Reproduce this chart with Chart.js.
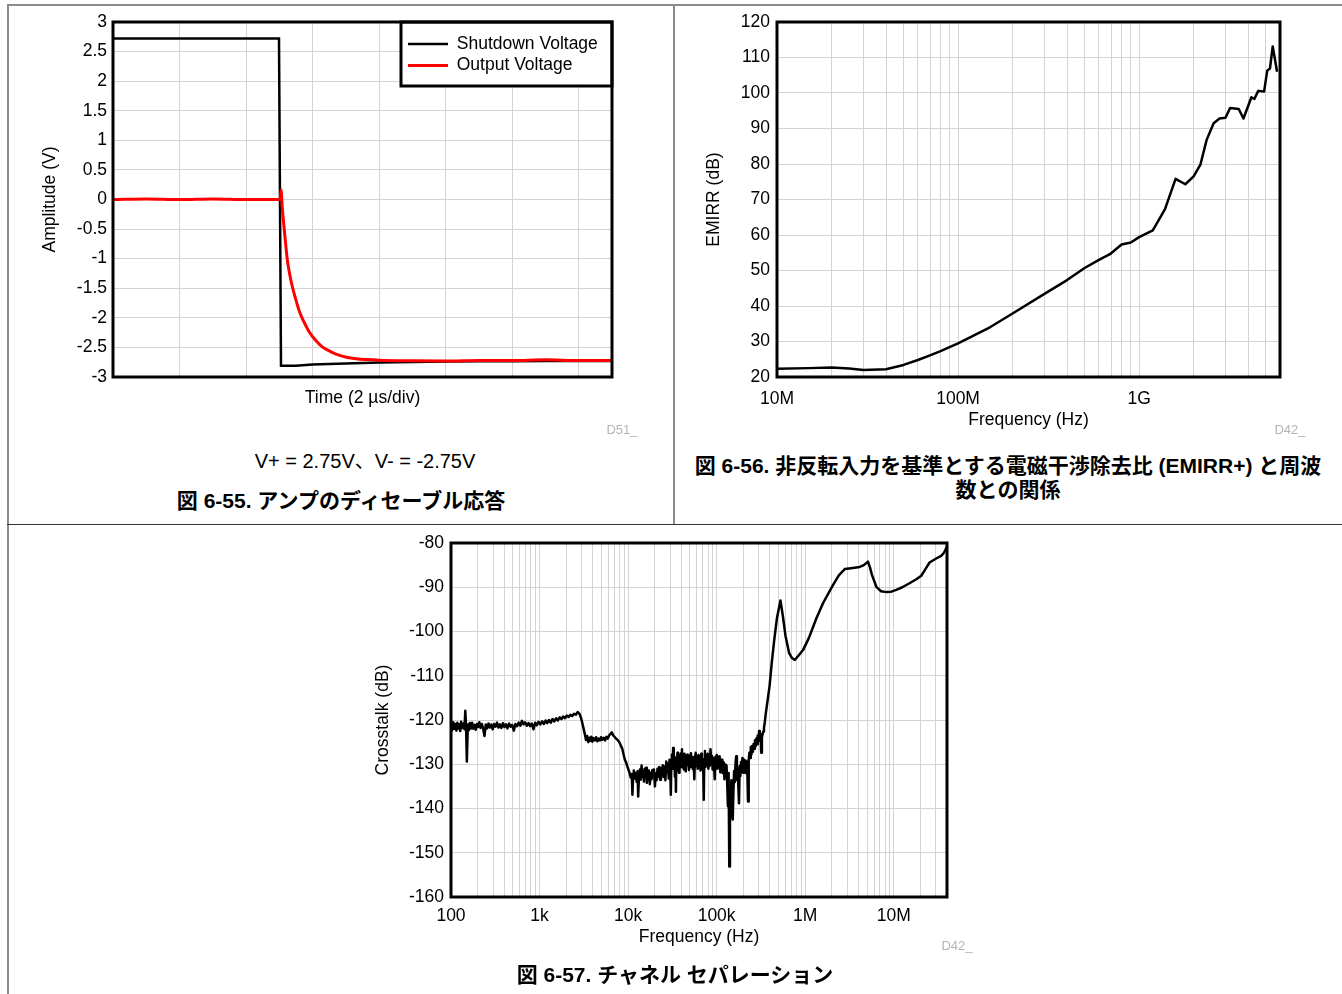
<!DOCTYPE html>
<html>
<head>
<meta charset="utf-8">
<script src="https://cdn.jsdelivr.net/npm/chart.js@4.4.1/dist/chart.umd.min.js"></script>
<style>
  html, body { margin: 0; padding: 0; background: #fff; }
  body { width: 1342px; height: 994px; position: relative; overflow: hidden;
         font-family: "Liberation Sans", Arial, "Noto Sans CJK JP", sans-serif; }
  canvas { position: absolute; }
  .rule { position: absolute; background: #8c8c8c; }
  .txt { position: absolute; text-align: center; white-space: nowrap; color: #000; }
  .cap { font-weight: bold; font-size: 21px; line-height: 24px; }
  .code { font-size: 13px; line-height: 16px; color: #b4b4b4; }
</style>
</head>
<body>
<div class="rule" style="left:7px;top:4px;width:1335px;height:2px;"></div>
<div class="rule" style="left:7px;top:4px;width:2px;height:990px;"></div>
<div class="rule" style="left:673px;top:4px;width:2px;height:521px;"></div>
<div class="rule" style="left:7px;top:524px;width:1335px;height:1px;background:#333;"></div>

<canvas id="c1" width="674" height="430" style="left:0;top:0;"></canvas>
<canvas id="c2" width="668" height="440" style="left:674px;top:0;"></canvas>
<canvas id="c3" width="660" height="440" style="left:340px;top:525px;"></canvas>

<div class="txt code" style="left:592px;top:422px;width:60px;">D51_</div>
<div class="txt" style="left:165px;top:449px;width:400px;font-size:20px;line-height:24px;">V+ = 2.75V、V- = -2.75V</div>
<div class="txt cap" style="left:41px;top:489px;width:600px;">図 6-55. アンプのディセーブル応答</div>

<div class="txt code" style="left:1260px;top:422px;width:60px;">D42_</div>
<div class="txt cap" style="left:674px;top:454px;width:668px;">図 6-56. 非反転入力を基準とする電磁干渉除去比 (EMIRR+) と周波<br>数との関係</div>

<div class="txt code" style="left:927px;top:938px;width:60px;">D42_</div>
<div class="txt cap" style="left:375px;top:963px;width:600px;">図 6-57. チャネル セパレーション</div>

<script>
// ---- chart 1: disable response ----
var seriesNames = ["Shutdown Voltage", "Output Voltage"];
var shutT = [0, 4.99, 5.05, 5.5, 6, 7, 8, 9, 10, 11, 12, 13, 14, 15];
var shutV = [2.72, 2.72, -2.81, -2.81, -2.79, -2.77, -2.755, -2.745, -2.74, -2.735, -2.735, -2.73, -2.73, -2.73];
var outT = [0, 1, 2, 3, 4, 5.03, 5.05, 5.09, 5.14, 5.19, 5.24, 5.31, 5.39, 5.49, 5.59, 5.74, 5.89, 6.09, 6.29, 6.54,
  6.79, 7.05, 7.3, 7.65, 8, 9, 10, 11, 12, 13, 14, 15];
var outV = [0, 0.01, 0, 0.01, 0, 0, 0.16, -0.15, -0.46, -0.75, -1.02, -1.26, -1.47, -1.68, -1.87, -2.07, -2.23, -2.38,
  -2.49, -2.57, -2.63, -2.67, -2.69, -2.705, -2.715, -2.725, -2.73, -2.72, -2.72, -2.71, -2.72, -2.72];

// ---- chart 2: EMIRR+ vs frequency ----
var emiFreq = [1e7, 1.5e7, 2e7, 2.5e7, 3e7, 4e7, 5e7, 6e7, 7e7, 8e7, 1e8, 1.5e8, 2e8, 3e8, 4e8, 5e8, 6e8, 6.9e8,
  8e8, 9e8, 1e9, 1.19e9, 1.39e9, 1.59e9, 1.8e9, 2e9, 2.18e9, 2.36e9, 2.58e9, 2.78e9, 3e9, 3.18e9, 3.55e9,
  3.77e9, 4.17e9, 4.33e9, 4.55e9, 4.9e9, 5.1e9, 5.28e9, 5.47e9, 5.78e9];
var emiVal = [22.3, 22.5, 22.7, 22.4, 22.0, 22.2, 23.4, 24.8, 26.1, 27.3, 29.5, 34.0, 37.9, 43.4, 47.3, 50.7, 53.0, 54.6,
  57.3, 57.9, 59.4, 61.3, 67.3, 75.8, 74.3, 76.5, 79.8, 86.8, 91.5, 92.8, 93.0, 95.8, 95.5,
  92.8, 98.8, 98.3, 100.6, 100.4, 106.3, 106.9, 113.1, 106.0];
var emiTickLabels = { 10000000: "10M", 100000000: "100M", 1000000000: "1G" };

// ---- chart 3: channel separation ----
var ctFreq = [
  100, 103, 106, 109, 112, 115, 118, 121, 124, 127, 130, 134, 138, 142, 145, 148, 151, 155, 159, 163,
  168, 173, 178, 184, 190, 196, 202, 209, 216, 223, 231, 239, 247, 256, 265, 275, 285, 296, 307, 319,
  331, 344, 357, 371, 386, 401, 417, 434, 452, 471, 491, 512, 534, 557, 581, 606, 632, 659, 688, 718,
  750, 783, 818, 855, 893, 933, 975, 1020, 1070, 1120, 1170, 1220, 1280, 1340, 1400, 1470, 1540, 1610, 1690, 1770,
  1850, 1940, 2030, 2130, 2230, 2340, 2450, 2570, 2700, 2830, 2950,
  3050, 3150, 3250, 3350, 3450, 3550, 3650, 3750, 3850, 3950, 4050, 4200, 4350, 4500, 4650, 4800, 4950, 5100,
  5300, 5500, 5700, 5900, 6100, 6300, 6550, 6800, 7100, 7400, 7700, 8000, 8300, 8600, 8900, 9200, 9500, 9800, 10100,
  10400, 10700, 11000, 11200, 11400, 11600, 11900, 12200, 12500, 12800, 13000, 13300, 13600, 13900, 14200, 14500,
  14800, 15100, 15400, 15700, 16000, 16300, 16600, 16900, 17200, 17600, 18000, 18400, 18800, 19200, 19600, 20100,
  20500, 21000, 21500, 22000, 22500, 23000, 23500, 24000, 24600, 25200, 25800, 26400, 27000, 27600, 28200, 28800,
  29400, 30000, 30400, 30800, 31300, 31800, 32300, 32800, 33300, 33800, 34300, 34700, 35100, 35600, 36100, 36600,
  37100, 37600, 38100, 38700, 39300, 40000, 40600, 41300, 42000, 42700, 43400, 44100, 44800, 45500, 46300, 47100,
  47900, 48700, 49500, 50400, 51300, 52200, 53100, 54000, 55000, 56000, 57000, 58000, 59000, 60100, 61200, 62300,
  63400, 64600, 65800, 67000, 68200, 69500, 70800, 71600, 72500, 73800, 75100, 76500, 77900, 79300, 80800, 82300,
  83800, 85300, 86900, 88500, 90100, 91800, 93500, 95200, 96900, 98700, 100500, 102300, 104200, 106100, 108000,
  110000, 112000, 114000, 116100, 118200, 120400, 122600, 124800, 127100, 129400, 131800, 134200, 136600, 139000,
  141500, 144100, 146700, 149400, 152100, 154900, 157700, 160600, 163500, 166500, 169500, 172600, 175700, 178900,
  182200, 185500, 188900, 192300, 195800, 199400, 203000, 206700, 210500, 214300, 218200, 222200, 226300, 230400,
  234600, 238900, 243200, 247600, 252100, 256700, 261400, 266200, 271000, 276000, 281000, 286100, 291300, 296600,
  302000, 307500, 313100, 318800, 324600, 330500, 336500, 342600, 350000, 360000, 380000, 396000, 420000, 450000,
  480000, 526000, 560000, 600000, 660000, 710000, 764000, 830000, 946000, 1.1e6, 1.34e6, 1.6e6, 2.06e6, 2.4e6,
  2.8e6, 3.3e6, 4.13e6, 4.6e6, 5.12e6, 5.4e6, 5.68e6, 6.37e6, 7.2e6, 8.26e6, 9.4e6, 10.7e6, 12.5e6, 15.1e6, 18e6,
  20.5e6, 23e6, 25.4e6, 28e6, 30.2e6, 34.4e6, 37e6, 40e6];
var ctVal = [
  -121.2, -122.3, -120.5, -122.0, -120.9, -122.4, -120.6, -121.9, -121.0, -122.5, -120.4, -121.8, -120.8, -122.1,
  -117.9, -121.5, -129.4, -121.0, -122.3, -120.7, -121.9, -120.6, -122.0, -121.1, -122.2, -120.9, -121.6, -120.5,
  -121.8, -120.9, -122.0, -123.6, -121.0, -121.9, -120.8, -121.7, -121.0, -122.1, -120.9, -121.5, -120.6, -121.7,
  -121.0, -121.8, -120.7, -121.6, -121.0, -121.9, -120.8, -121.5, -121.1, -122.4, -120.9, -121.4, -120.6, -121.3,
  -120.2, -121.0, -120.5, -121.3, -120.7, -121.4, -120.8, -122.1, -120.6, -121.2, -120.4, -121.0, -120.3, -120.9,
  -120.1, -120.7, -120.0, -120.6, -119.8, -120.3, -119.6, -120.1, -119.4, -119.8, -119.2, -119.6, -119.0, -119.3,
  -118.8, -119.1, -118.6, -118.8, -118.2, -118.6, -119.6,
  -120.8, -122.0, -123.2, -124.5, -123.6, -125.0, -124.0, -124.7, -123.8, -124.9, -124.1, -124.6, -123.9, -124.8,
  -124.2, -124.6, -123.9, -124.5, -124.0, -124.6, -123.8, -124.2, -123.5, -123.2, -122.8, -123.5, -123.9, -124.3,
  -124.6, -125.1, -125.8, -126.5, -127.8, -129.0, -129.6, -130.5, -131.2,
  -132.0, -133.0, -132.2, -136.9, -132.6, -131.4, -133.2, -132.0, -134.0, -131.6, -137.3, -132.4, -131.2, -133.5,
  -130.3, -132.8, -131.5, -133.9, -131.0, -132.7, -130.8, -134.2, -131.9, -133.0, -131.4, -134.5, -132.0, -133.4,
  -131.3, -132.9, -131.2, -135.0, -132.1, -133.6, -131.0, -132.8, -130.6, -133.5, -130.9, -132.4, -130.2, -132.9,
  -130.5, -133.6, -129.4, -131.8, -129.9, -133.2, -129.0, -131.5, -136.9, -129.3, -127.8, -131.0, -126.3, -130.2,
  -128.4, -132.8, -129.0, -136.2, -128.6, -131.4, -127.4, -130.3, -128.0, -131.9, -128.7, -130.6, -127.5, -129.9,
  -126.6, -130.7, -128.3, -131.2, -127.6, -129.5, -131.6, -128.0, -130.1, -127.8, -129.2, -131.3, -128.1, -130.6,
  -127.5, -129.8, -128.4, -131.1, -129.0, -133.4, -128.1, -127.4, -130.4, -128.6, -131.0, -127.9, -130.2, -128.3,
  -131.4, -127.6, -130.0, -128.8, -132.5, -138.0, -129.1, -127.0, -130.6, -128.0, -129.7, -127.6, -131.0, -128.9,
  -130.3, -126.6, -129.5, -128.1, -131.2, -128.6, -130.0, -133.4, -128.3, -129.6, -127.9, -131.0, -128.5, -130.7,
  -128.2, -131.8, -128.9, -130.4, -129.0, -132.0, -129.6, -133.4, -130.1, -132.6, -130.3, -134.5, -139.5, -132.0,
  -153.1, -135.0, -140.4, -133.6, -141.0, -142.5, -136.0, -131.5, -134.0, -129.8, -128.2, -133.5, -130.9, -134.6,
  -138.8, -130.4, -132.7, -129.5, -131.5, -128.6, -131.9, -128.9, -130.6, -129.2, -132.0, -129.4, -131.5, -138.4,
  -129.0, -127.4, -128.6, -126.1, -127.8, -125.9, -127.2, -125.4, -126.5, -124.6, -125.9, -124.2, -125.5, -123.5,
  -124.8, -122.5, -124.6, -123.2, -127.4, -124.0, -123.2, -122.6, -121.8, -120.5, -118.4, -115.0, -112.4, -107.0,
  -101.5, -97.0, -93.0, -96.5, -101.0, -104.9, -106.0, -106.4, -105.6, -104.2, -101.5, -97.0, -93.5, -89.5, -87.3,
  -85.9, -85.7, -85.4, -85.0, -84.2, -85.5, -87.2, -89.9, -90.9, -91.1, -91.0, -90.6, -90.0, -89.1, -88.2,
  -87.4, -85.8, -84.4, -83.9, -83.5, -82.9, -82.2, -80.8];
var ctTickLabels = { 100: "100", 1000: "1k", 10000: "10k", 100000: "100k", 1000000: "1M", 10000000: "10M" };

var gridColor = "#d3d3d3";
Chart.defaults.font.family = '"Liberation Sans", Arial, sans-serif';
Chart.defaults.font.size = 17.5;
Chart.defaults.color = "#000";

function pts(xs, ys) {
  return xs.map(function (x, i) { return { x: x, y: ys[i] }; });
}

// gridline positions for a log axis: 1..9 x each decade, plus the axis end
function logGrid(lo, hi) {
  var out = [];
  for (var e = Math.round(Math.log10(lo)); Math.pow(10, e) < hi; e++) {
    for (var m = 1; m <= 9; m++) {
      var v = m * Math.pow(10, e);
      if (v >= lo && v < hi) out.push(v);
    }
  }
  out.push(hi);
  return out;
}

// thick black frame round the plot area
var framePlugin = {
  id: "frame",
  afterDraw: function (chart) {
    var a = chart.chartArea, ctx = chart.ctx;
    ctx.save();
    ctx.strokeStyle = "#000";
    ctx.lineWidth = 3;
    ctx.strokeRect(a.left, a.top, a.right - a.left, a.bottom - a.top);
    ctx.restore();
  }
};

// legend box sitting in the top right corner of the plot
var legendBoxPlugin = {
  id: "legendBox",
  afterLayout: function (chart) {
    var a = chart.chartArea, lg = chart.legend;
    lg.left = a.right - 208;
    lg.top = a.top + 9.25;
    lg.right = a.right;
    lg.bottom = a.top + 64;
    lg.width = lg.right - lg.left;
    lg.height = lg.bottom - lg.top;
  },
  afterDatasetsDraw: function (chart) {
    var a = chart.chartArea, ctx = chart.ctx;
    var bx = a.right - 211, by = a.top, bw = 211, bh = 64;
    ctx.save();
    ctx.fillStyle = "#fff";
    ctx.fillRect(bx, by, bw, bh);
    ctx.restore();
    chart.legend.draw();
    ctx.save();
    ctx.strokeStyle = "#000";
    ctx.lineWidth = 3;
    ctx.strokeRect(bx, by, bw, bh);
    ctx.restore();
  }
};

function yAxis(min, max, step, title, width, titlePad, tickPad) {
  return {
    min: min, max: max,
    ticks: {
      stepSize: step, padding: tickPad,
      callback: function (v) { return String(Math.round(v * 100) / 100); }
    },
    grid: { color: gridColor, drawTicks: false },
    border: { display: false },
    title: { display: true, text: title, padding: { top: titlePad, bottom: 0 } },
    afterFit: function (s) { s.width = width; }
  };
}

function logXAxis(lo, hi, labels, height, tickPad) {
  var grid = logGrid(lo, hi);
  return {
    type: "logarithmic", min: lo, max: hi,
    afterBuildTicks: function (s) { s.ticks = grid.map(function (v) { return { value: v }; }); },
    ticks: {
      autoSkip: false, maxRotation: 0, padding: tickPad,
      callback: function (v) { return labels[v] || ""; }
    },
    grid: { color: gridColor, drawTicks: false },
    border: { display: false },
    title: { display: true, text: "Frequency (Hz)", padding: 0 },
    afterFit: function (s) { s.height = height; }
  };
}

new Chart(document.getElementById("c1"), {
  type: "line",
  data: {
    datasets: [
      { label: seriesNames[0], data: pts(shutT, shutV), borderColor: "#000", backgroundColor: "#000",
        borderWidth: 2.5, pointRadius: 0, order: 1 },
      { label: seriesNames[1], data: pts(outT, outV), borderColor: "#f00", backgroundColor: "#f00",
        borderWidth: 3, pointRadius: 0, order: 0, cubicInterpolationMode: "monotone" }
    ]
  },
  options: {
    responsive: false, animation: false,
    layout: { padding: { top: 22, right: 62, bottom: 21, left: 0 } },
    plugins: {
      legend: {
        position: "chartArea", align: "start",
        labels: {
          usePointStyle: true, pointStyle: "line", pointStyleWidth: 40, padding: 4,
          sort: function (a, b) { return a.datasetIndex - b.datasetIndex; }
        }
      },
      tooltip: { enabled: false }
    },
    scales: {
      x: {
        type: "linear", min: 0, max: 15,
        ticks: { display: false, stepSize: 2 },
        grid: { color: gridColor, drawTicks: false },
        border: { display: false },
        title: { display: true, text: "Time (2 µs/div)", padding: 0 },
        afterFit: function (s) { s.height = 32; }
      },
      y: yAxis(-3, 3, 0.5, "Amplitude (V)", 113, 39.5, 6)
    }
  },
  plugins: [framePlugin, legendBoxPlugin]
});

new Chart(document.getElementById("c2"), {
  type: "line",
  data: {
    datasets: [{ label: "EMIRR+", data: pts(emiFreq, emiVal), borderColor: "#000",
      borderWidth: 2.5, pointRadius: 0, borderJoinStyle: "round" }]
  },
  options: {
    responsive: false, animation: false,
    layout: { padding: { top: 22, right: 62, bottom: 9.5, left: 0 } },
    plugins: { legend: { display: false }, tooltip: { enabled: false } },
    scales: {
      x: logXAxis(1e7, 6e9, emiTickLabels, 53.5, 11.5),
      y: yAxis(20, 120, 10, "EMIRR (dB)", 103, 29.5, 7)
    }
  },
  plugins: [framePlugin]
});

new Chart(document.getElementById("c3"), {
  type: "line",
  data: {
    datasets: [{ label: "Crosstalk", data: pts(ctFreq, ctVal), borderColor: "#000",
      borderWidth: 2.5, pointRadius: 0, borderJoinStyle: "round" }]
  },
  options: {
    responsive: false, animation: false,
    layout: { padding: { top: 18, right: 53, bottom: 17.5, left: 0 } },
    plugins: { legend: { display: false }, tooltip: { enabled: false } },
    scales: {
      x: logXAxis(100, 4e7, ctTickLabels, 50.5, 8.5),
      y: yAxis(-160, -80, 10, "Crosstalk (dB)", 111, 32.5, 7)
    }
  },
  plugins: [framePlugin]
});
</script>
</body>
</html>
